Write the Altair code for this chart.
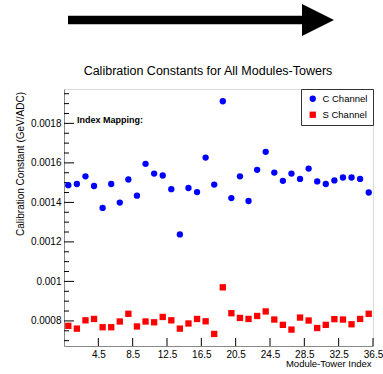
import altair as alt
import pandas as pd

# Calibration constants per module-tower index
tower_index = list(range(1, 37))
c_values = [0.001487, 0.001493, 0.001532, 0.001483, 0.001372, 0.001493, 0.001399, 0.001516,
            0.001434, 0.001595, 0.001546, 0.001536, 0.001467, 0.001238, 0.001473, 0.001452,
            0.001627, 0.001490, 0.001912, 0.001422, 0.001532, 0.001407, 0.001565, 0.001656,
            0.001551, 0.001509, 0.001546, 0.001519, 0.001571, 0.001506, 0.001493, 0.001511,
            0.001526, 0.001526, 0.001519, 0.001450]
s_values = [0.000775, 0.000761, 0.000803, 0.000810, 0.000768, 0.000768, 0.000797, 0.000836,
            0.000772, 0.000797, 0.000793, 0.000820, 0.000803, 0.000761, 0.000787, 0.000810,
            0.000798, 0.000734, 0.000970, 0.000839, 0.000815, 0.000810, 0.000825, 0.000848,
            0.000807, 0.000780, 0.000756, 0.000817, 0.000802, 0.000764, 0.000780, 0.000809,
            0.000807, 0.000783, 0.000810, 0.000836]
channels = ["C Channel", "S Channel"]

x_ticks = [4.5, 8.5, 12.5, 16.5, 20.5, 24.5, 28.5, 32.5, 36.5]
y_ticks = [0.0008, 0.001, 0.0012, 0.0014, 0.0016, 0.0018]
y_minor = [0.0007, 0.00075, 0.00085, 0.0009, 0.00095, 0.00105, 0.0011, 0.00115,
           0.00125, 0.0013, 0.00135, 0.00145, 0.0015, 0.00155, 0.00165, 0.0017,
           0.00175, 0.00185, 0.0019, 0.00195]

title_text = "Calibration Constants for All Modules-Towers"
note_text = "Index Mapping:"

FONT = "Liberation Sans"
W, H = 309, 257

df = pd.DataFrame({
    "index": tower_index * 2,
    "value": c_values + s_values,
    "channel": [channels[0]] * len(c_values) + [channels[1]] * len(s_values),
})

x_scale = alt.Scale(domain=[0.5, 36.5], nice=False, zero=False)
y_scale = alt.Scale(domain=[0.000673, 0.001974], nice=False, zero=False)

legend = alt.Legend(
    title=None, orient="top-right", offset=0, padding=5, rowPadding=5,
    labelFont=FONT, labelFontSize=9.5, labelColor="black", labelOffset=5,
    symbolOffset=2, symbolSize=40, strokeColor="#333333", fillColor="white",
)

x_axis = alt.Axis(
    values=x_ticks, format=".1f", ticks=False, grid=False, labelPadding=3,
    labelFlush=False, title="Module-Tower Index", titleX=W - 2, titleY=20,
    titleAlign="right", titleBaseline="alphabetic", titleFontSize=9.5,
    titleFont=FONT, titleFontWeight="normal", titleColor="black")
y_axis = alt.Axis(
    values=y_ticks, format="~g", ticks=False, grid=False, labelPadding=3,
    title="Calibration Constant (GeV/ADC)", titleX=-41, titleY=74.5,
    titleAngle=270, titleAlign="center", titleBaseline="alphabetic",
    titleFontSize=10, titleFont=FONT, titleFontWeight="normal", titleColor="black")

points = alt.Chart(df).mark_point(filled=True, opacity=1, size=40).encode(
    x=alt.X("index:Q", scale=x_scale, axis=x_axis),
    y=alt.Y("value:Q", scale=y_scale, axis=y_axis),
    color=alt.Color("channel:N", scale=alt.Scale(domain=channels, range=["#0000ff", "#ff0000"]), legend=legend),
    shape=alt.Shape("channel:N", scale=alt.Scale(domain=channels, range=["circle", "square"]), legend=legend),
)

# inward-pointing tick marks on the left and bottom frame
y_major_ticks = alt.Chart(pd.DataFrame({"value": y_ticks})).mark_rule(color="black", strokeWidth=1).encode(
    y=alt.Y("value:Q", scale=y_scale, axis=y_axis), x=alt.value(0), x2=alt.value(10))
y_minor_ticks = alt.Chart(pd.DataFrame({"value": y_minor})).mark_rule(color="black", strokeWidth=1).encode(
    y=alt.Y("value:Q", scale=y_scale, axis=y_axis), x=alt.value(0), x2=alt.value(5))
x_major_ticks = alt.Chart(pd.DataFrame({"index": x_ticks})).mark_rule(color="black", strokeWidth=1).encode(
    x=alt.X("index:Q", scale=x_scale, axis=x_axis), y=alt.value(H), y2=alt.value(H - 8))

note = alt.Chart(pd.DataFrame({"label": [note_text]})).mark_text(
    align="left", baseline="alphabetic", font=FONT, fontSize=9, fontWeight="bold", color="black"
).encode(text="label:N", x=alt.value(13), y=alt.value(33.5))

# chart heading, drawn as a text mark above the frame
heading = alt.Chart(pd.DataFrame({"label": [title_text]})).mark_text(
    align="center", baseline="alphabetic", font=FONT, fontSize=12.5, color="black"
).encode(text="label:N", x=alt.value(144), y=alt.value(-14))

# direction arrow above the heading
one = pd.DataFrame({"k": [0]})
arrow_shaft = alt.Chart(one).mark_rule(color="black", strokeWidth=8.7, strokeCap="butt").encode(
    x=alt.value(4), x2=alt.value(239), y=alt.value(-69))
arrow_head = alt.Chart(one).mark_point(
    shape="M-1,-1L1,0L-1,1Z", filled=True, opacity=1, color="black", size=1024, strokeWidth=0
).encode(x=alt.value(254), y=alt.value(-69))

chart = alt.layer(
    y_minor_ticks, y_major_ticks, x_major_ticks, points, note, heading, arrow_shaft, arrow_head
).properties(
    width=W, height=H,
    autosize=alt.AutoSizeParams(type="none"),
    padding={"left": 64, "top": 89, "right": 10, "bottom": 28},
).configure_view(
    stroke="black", strokeWidth=1
).configure_axis(
    domainColor="black", labelFont=FONT, labelFontSize=10, labelColor="black"
).configure(background="white")

chart.save("out.html", embed_options={"renderer": "svg", "actions": False})
